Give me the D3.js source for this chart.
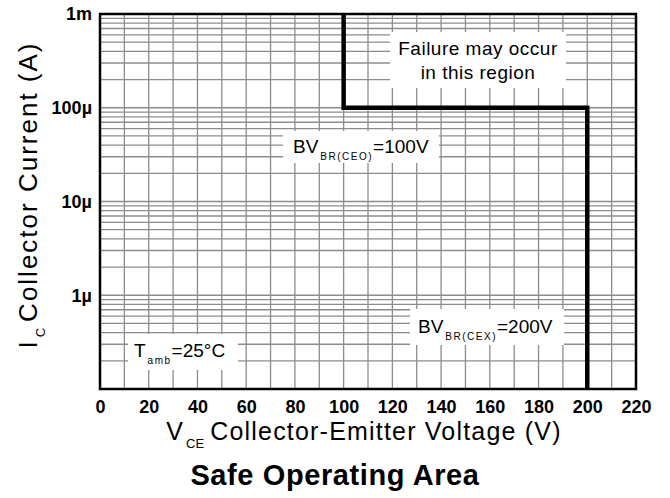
<!DOCTYPE html>
<html>
<head>
<meta charset="utf-8">
<script src="https://cdn.jsdelivr.net/npm/d3@7"></script>
<style>
  body { margin: 0; background: #fff; }
  text { font-family: "Liberation Sans", Arial, sans-serif; }
</style>
</head>
<body>
<div id="chart"></div>
<script>
// chart values
let xTicks = [0, 20, 40, 60, 80, 100, 120, 140, 160, 180, 200, 220];
let xGrid = d3.range(0, 221, 10);
let yTicks = [1e-6, 1e-5, 1e-4, 1e-3];
let yTickLabels = ["1µ", "10µ", "100µ", "1m"];
let boundary = [[100, 1e-3], [100, 1e-4], [200, 1e-4], [200, 1e-7]];

var width = 670, height = 498;
var margin = { left: 100, top: 14, right: 34, bottom: 109 };

var svg = d3.select('#chart')
    .append('svg')
    .attr('width', width)
    .attr('height', height);

var x = d3.scaleLinear().domain([0, 220]).range([margin.left, width - margin.right]);
var y = d3.scaleLog().domain([1e-7, 1e-3]).range([height - margin.bottom, margin.top]);

// log grid values 1..9 per decade
var yGrid = [];
[1e-7, 1e-6, 1e-5, 1e-4].forEach(function (d) {
    for (var k = 1; k < 10; k++) yGrid.push(d * k);
});

var grid = svg.append('g').attr('id', 'grid');
grid.selectAll('.vg')
    .data(xGrid)
    .enter()
    .append('line')
    .attr('x1', function (d) { return x(d); })
    .attr('x2', function (d) { return x(d); })
    .attr('y1', y.range()[0])
    .attr('y2', y.range()[1])
    .attr('stroke', '#8c8c8c')
    .attr('stroke-width', 1.3);
grid.selectAll('.hg')
    .data(yGrid)
    .enter()
    .append('line')
    .attr('x1', x.range()[0])
    .attr('x2', x.range()[1])
    .attr('y1', function (d) { return y(d); })
    .attr('y2', function (d) { return y(d); })
    .attr('stroke', '#8c8c8c')
    .attr('stroke-width', 1.3);

// annotation boxes
function labelBox(cx, cy, w, h) {
    svg.append('rect')
        .attr('x', cx - w / 2).attr('y', cy - h / 2)
        .attr('width', w).attr('height', h)
        .attr('fill', '#fff');
}

labelBox(478, 60, 176, 56);
labelBox(361, 147, 156, 32);
labelBox(487, 327, 154, 36);
labelBox(183, 352, 110, 36);

var ann = svg.append('g').attr('font-size', 19).attr('fill', '#000');
ann.append('text').attr('x', 478).attr('y', 55).attr('text-anchor', 'middle')
    .attr('letter-spacing', 0.5).text('Failure may occur');
ann.append('text').attr('x', 478).attr('y', 79).attr('text-anchor', 'middle')
    .attr('letter-spacing', 0.5).text('in this region');

function subLabel(xp, yp, main, sub, rest) {
    var t = ann.append('text').attr('x', xp).attr('y', yp);
    t.append('tspan').text(main);
    t.append('tspan').attr('font-size', 10).attr('dy', 7).attr('dx', 2).attr('letter-spacing', 1.5).text(sub);
    t.append('tspan').attr('dy', -7).attr('dx', 0).text(rest);
}
subLabel(293, 153, 'BV', 'BR(CEO)', '=100V');
subLabel(418, 333, 'BV', 'BR(CEX)', '=200V');
subLabel(134, 357, 'T', 'amb', '=25°C');

// boundary line
var line = d3.line()
    .x(function (d) { return x(d[0]); })
    .y(function (d) { return y(d[1]); });
svg.append('path')
    .datum(boundary)
    .attr('d', line)
    .attr('fill', 'none')
    .attr('stroke', '#000')
    .attr('stroke-width', 4.5)
    .attr('stroke-linejoin', 'miter');

// frame
svg.append('rect')
    .attr('x', x.range()[0]).attr('y', y.range()[1])
    .attr('width', x.range()[1] - x.range()[0])
    .attr('height', y.range()[0] - y.range()[1])
    .attr('fill', 'none')
    .attr('stroke', '#000')
    .attr('stroke-width', 2.5);

// axes
var xAxis = svg.append('g')
    .attr('transform', 'translate(0,' + y.range()[0] + ')')
    .call(d3.axisBottom(x).tickValues(xTicks).tickSize(0).tickPadding(11));
var yAxis = svg.append('g')
    .attr('transform', 'translate(' + x.range()[0] + ',0)')
    .call(d3.axisLeft(y).tickValues(yTicks).tickFormat(function (d, i) { return yTickLabels[i]; }).tickSize(0).tickPadding(8));
[xAxis, yAxis].forEach(function (a) {
    a.select('.domain').remove();
    a.selectAll('text')
        .attr('font-family', '"Liberation Sans", Arial, sans-serif')
        .attr('font-size', 18)
        .attr('font-weight', 'bold')
        .attr('fill', '#000');
});

// axis titles
var xt = svg.append('text')
    .attr('x', 364).attr('y', 440)
    .attr('text-anchor', 'middle')
    .attr('font-size', 25)
    .attr('letter-spacing', 1.2);
xt.append('tspan').text('V');
xt.append('tspan').attr('font-size', 13).attr('letter-spacing', 0).attr('dy', 8).attr('dx', 2).text('CE');
xt.append('tspan').attr('dy', -8).attr('dx', 6).text('Collector-Emitter Voltage (V)');

var yt = svg.append('text')
    .attr('transform', 'translate(37,195) rotate(-90)')
    .attr('text-anchor', 'middle')
    .attr('font-size', 26)
    .attr('letter-spacing', 2);
yt.append('tspan').text('I');
yt.append('tspan').attr('font-size', 13).attr('letter-spacing', 0).attr('dy', 8).attr('dx', 2).text('C');
yt.append('tspan').attr('dy', -8).attr('dx', 6).text('Collector Current (A)');

svg.append('text')
    .attr('x', 335).attr('y', 485)
    .attr('text-anchor', 'middle')
    .attr('font-size', 29)
    .attr('font-weight', 'bold')
    .attr('letter-spacing', 0.6)
    .text('Safe Operating Area');
</script>
</body>
</html>
